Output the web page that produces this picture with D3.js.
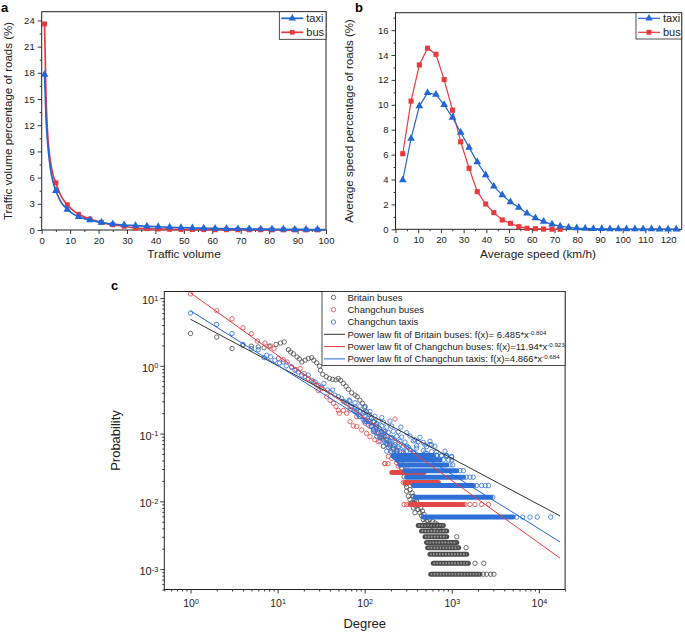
<!DOCTYPE html>
<html><head><meta charset="utf-8">
<script src="https://cdn.jsdelivr.net/npm/d3@7"></script>
<style>
body{margin:0;background:#fff;}
svg text{font-family:"Liberation Sans", Arial, sans-serif;}
</style>
</head><body>
<svg id="chart" width="685" height="633"></svg>
<script>
// ---------------- Panel a: traffic volume ----------------
const volumeX   = [1,1.5,2,3,4,5,6,7,8,9,11,13,15,17,19,21,25,29,33,37,41,45,49,53,57,61,65,69,73,77,81,85,89,93,97,100];
const taxiVolume = [17.8,13.0,10.3,7.2,5.5,4.5,3.7,3.1,2.7,2.36,1.85,1.52,1.3,1.14,0.98,0.86,0.69,0.57,0.5,0.42,0.37,0.31,0.27,0.23,0.2,0.17,0.15,0.13,0.11,0.1,0.09,0.08,0.07,0.06,0.05,0.05];
const busVolume  = [23.6,15.5,11.5,8.0,6.3,5.4,4.5,3.8,3.3,2.9,2.25,1.8,1.5,1.26,1.05,0.88,0.6,0.42,0.22,0.15,0.11,0.08,0.06,0.05,0.04,0.03,0.03,0.02,0.02,0.02,0.01,0.01,0.01,0.01,0.01,0.01];
const volumeXTicks = [0,10,20,30,40,50,60,70,80,90,100];
const volumeYTicks = [0,3,6,9,12,15,18,21,24];

// ---------------- Panel b: average speed ----------------
const speedX = [3.2,6.85,10.5,14.1,17.8,21.4,25.1,28.7,32.4,36.0,39.7,43.3,47.0,50.6,54.3,57.9,61.6,65.2,68.9,72.5,76.2,79.8,83.5,87.1,90.8,94.4,98.1,101.7,105.4,109.0,112.7,116.3,120.0,123.6];
const taxiSpeed = [3.96,7.3,9.9,10.96,10.83,10.0,8.98,7.78,6.58,5.4,4.36,3.45,2.75,2.19,1.76,1.28,0.9,0.62,0.4,0.25,0.15,0.1,0.07,0.05,0.04,0.03,0.03,0.02,0.02,0.02,0.02,0.01,0.01,0.01];
const busSpeed  = [6.07,10.3,13.2,14.55,14.06,12.03,9.57,7.03,4.9,3.02,2.03,1.34,0.75,0.48,0.21,0.08,0.05,0.02,0.01,0.0];
const speedXTicks = [0,10,20,30,40,50,60,70,80,90,100,110,120];
const speedYTicks = [0,2,4,6,8,10,12,14,16];

// ---------------- Panel c: degree distribution ----------------
const seriesNames = ["Britain buses","Changchun buses","Changchun taxis"];
const fitNames = ["Power law fit of Britain buses: f(x)= 6.485*x","Power law fit of Changchun buses: f(x)=11.94*x","Power law fit of Changchun taxis: f(x)=4.866*x"];
const fitExponentLabels = ["-0.804","-0.923","-0.684"];
// fitted lines as drawn in the picture (black, red, blue): [coefficient, exponent, xStart, xEnd]
const fitBlack = [4.866,-0.684,1,17500];
const fitRed   = [11.94,-0.923,1,17500];
const fitBlue  = [6.485,-0.804,1,17500];
const degreeTicks = [1,10,100,1000,10000];
const probTicks = [0.001,0.01,0.1,1,10];

// [degree, probability]
const britainPoints = [[1,3.0],[2,2.65],[3,1.8],[4,2.0],[5,1.95],[6,1.9],[7,1.85],[8,1.95],[9.6,2.07],[10.8,2.17],[11.9,2.25],
[13.3,1.73],[14.1,1.6],[15.2,1.5],[16.7,1.35],[17.8,1.26],[19,1.14],[20.7,1.21],[22.5,1.28],[24.6,1.32],[26,1.21],[28.1,1.11],[30.2,0.99],[31,0.86],[33,0.75],[36.2,0.69],[39.5,0.65],[42.8,0.63],[46.8,0.62],[49.8,0.65],[53,0.61],[56.9,0.55],[61,0.5],[65,0.45],[71,0.4],[77.4,0.37],[82,0.35],[88,0.31],[94,0.28],[101,0.25],[105,0.21],[113,0.19],[120,0.17],[128,0.15],[137,0.14],[147,0.12],[157,0.107],[171,0.09],[179,0.081],[195,0.068],[213,0.061],[233,0.054],[250,0.046],[254,0.037],[266,0.031],[283,0.023],[297,0.018],[303,0.0141],[317,0.0119],[331,0.0106],[347,0.0095],[362,0.008],[378,0.0068],
[150,0.09],[180,0.07],[200,0.055],[220,0.045],[240,0.04],
[303,0.0163],[331,0.0149],[350,0.0133],[362,0.0119],[380,0.0106],[395,0.0100],[370,0.0095],[420,0.0090],[385,0.0085],[440,0.0080],[410,0.0076],[460,0.0072],[430,0.0068],[480,0.0064],[450,0.0061],[500,0.0057],[470,0.0054],[520,0.0051],[490,0.0048],[540,0.0046],[560,0.0054],[600,0.0051],[640,0.0048],[590,0.0043],[680,0.0046],[720,0.0040],
[1140,0.0030],[1460,0.00207],[1846,0.00122],[2330,0.00122],[2296,0.00084],[2510,0.00084],[2790,0.00084],[3050,0.00084]];
// dense rows: [probability, degreeFrom, degreeTo]
const britainRows = [[0.0044,412,800],[0.00364,450,875],[0.0030,492,875],[0.00246,513,1140],[0.00207,528,1200],[0.00166,562,1484],[0.00122,613,1547],[0.00084,573,2107]];

const changchunBusPoints = [[1,11.5],[2,6.5],[3,4.95],[4,3.65],[5,2.98],[5.85,2.32],[7.16,2.17],[8.3,1.96],[9.1,1.79],[10.2,1.28],[11.6,1.24],[12.9,1.14],[14.5,0.96],[16.3,0.88],[18.1,0.91],[20.1,0.77],[22.5,0.65],[25.7,0.58],[28.1,0.52],[29.4,0.43],[32.1,0.46],[36.6,0.35],[40,0.31],[43.6,0.28],[46.8,0.25],[49.8,0.22],[51.1,0.2],[56.9,0.22],[62.1,0.2],[67.8,0.15],[74,0.13],[80.9,0.127],[92.3,0.113],[101,0.142],[105,0.101],[115,0.09],[126,0.113],[131,0.081],[143,0.076],[157,0.086],[164,0.065],[171,0.036],[187,0.046],[204,0.043],[223,0.164],[233,0.037],[243,0.033],[266,0.031],[278,0.041],[303,0.033],
[67.8,0.223],[80.9,0.178],[96.4,0.159],[115,0.127],[137,0.101],[164,0.09],[195,0.072],[233,0.058],[278,0.051],
[170,0.036],[185,0.036],[283,0.009],[304,0.009],[1418,0.009],[1617,0.009],[1846,0.009],[2200,0.009],[2640,0.009],[278,0.019]];
const changchunBusRows = [[0.009,331,1345],[0.019,290,700],[0.0267,205,480]];

const changchunTaxiPoints = [[1,6.0],[2,4.08],[3,3.0],[4,2.07],[5,1.8],[6,1.73],[7,1.32],[7.5,1.43],[8.3,1.36],[9.3,1.21],[10.5,1.1],[11.6,1.14],[12.6,1.0],[14.5,0.96],[15.8,0.86],[17.3,0.81],[19,0.73],[20.7,0.69],[22.5,0.73],[24.6,0.61],[26.9,0.58],[29.4,0.52],[32.1,0.48],[34,0.55],[37.3,0.44],[40,0.41],[42.8,0.44],[45.5,0.37],[49.8,0.35],[54.3,0.33],[56.9,0.3],[62.1,0.28],[66.5,0.31],[71,0.25],[75.6,0.22],[80.9,0.21],[84.5,0.19],[88,0.18],[96.4,0.2],[101,0.16],[105,0.15],[110,0.134],[115,0.15],[120,0.127],[126,0.116],[131,0.107],[137,0.127],[143,0.101],[150,0.09],[157,0.095],[164,0.081],[171,0.107],[179,0.072],[187,0.076],[195,0.065],[204,0.086],[213,0.058],[223,0.069],[233,0.051],[243,0.061],[260,0.125],[266,0.046],[278,0.054],[303,0.065],[331,0.058],[362,0.051],[395,0.061],[431,0.046],[471,0.048],[514,0.051],[587,0.054],[670,0.048],[764,0.047],[873,0.046],[996,0.046],[562,0.069],[492,0.052],
[378,0.081],[412,0.076],[492,0.068],[585,0.068],
[59.4,0.29],[67.8,0.30],[77.4,0.285],
[67.8,0.25],[77.4,0.245],[88,0.255],[100,0.24],
[77.4,0.21],[88,0.215],[100,0.205],[115,0.212],
[88,0.178],[100,0.182],[115,0.174],[131,0.18],[157,0.172],
[100,0.15],[110,0.154],[126,0.146],[143,0.152],[164,0.147],[195,0.153],
[120,0.128],[137,0.124],[157,0.13],[179,0.125],[204,0.129],
[126,0.107],[143,0.105],[164,0.109],[187,0.104],[213,0.108],[243,0.106],[303,0.103],
[137,0.091],[157,0.089],[179,0.092],[204,0.088],[233,0.091],[266,0.089],[331,0.092],[431,0.088],
[150,0.077],[171,0.075],[195,0.078],[223,0.074],[254,0.077],[290,0.075],[362,0.078],[471,0.074],[562,0.077],
[164,0.065],[187,0.063],[213,0.066],[243,0.064],[278,0.065],[317,0.063],[395,0.066],[514,0.064],[641,0.065],
[179,0.055],[204,0.053],[233,0.056],[266,0.054],[303,0.055],[362,0.053],[471,0.056],[670,0.054],[836,0.055],
[213,0.046],[243,0.045],[278,0.047],[331,0.045],[431,0.046],[614,0.045],[873,0.047],[996,0.045],
[5563,0.00585],[6517,0.00585],[7903,0.00585],[9590,0.00585],[13650,0.00585],[2950,0.0115],[1930,0.0171],[2200,0.0171],[2420,0.0171],[2640,0.0171],[1460,0.0227],[1617,0.0227],[1766,0.0227],[1242,0.0284],[1360,0.0284],[954,0.0345],[1024,0.0345],[800,0.041],[915,0.041],[1000,0.041],[671,0.0475],[760,0.0475],[870,0.0475]];
const changchunTaxiRows = [[0.00585,470,5044],[0.0115,378,2800],[0.0171,361,1766],[0.0227,304,1360],[0.0284,290,1140],[0.0345,254,875],[0.041,233,732],[0.0475,212,613]];

// ---------------- drawing ----------------
const svg = d3.select('#chart');
const INK = '#222';
const BLUE = '#2167d6', RED = '#e8393c';
const C_GREY = '#4a4a4a', C_RED = '#e24848', C_BLUE = '#2f70d6';

function styleAxis(sel, fs){
  sel.attr('font-size', fs).attr('font-family','"Liberation Sans", Arial, sans-serif').attr('color', INK);
  sel.select('.domain').remove();
  sel.selectAll('.tick line').attr('stroke-width',0.9);
}
function frame(x0,y0,x1,y1){
  svg.append('rect').attr('x',x0).attr('y',y0).attr('width',x1-x0).attr('height',y1-y0)
    .attr('fill','none').attr('stroke',INK).attr('stroke-width',1);
}
function linearAxes(xs, ys, xMajor, yMajor){
  const b = ys.range()[0];
  const l = xs.range()[0];
  const xStep = xMajor[1]-xMajor[0], yStep = yMajor[1]-yMajor[0];
  const xMinor = xMajor.map(v=>v+xStep/2).filter(v=>v<=xs.domain()[1]);
  const yMinor = yMajor.map(v=>v+yStep/2).filter(v=>v<=ys.domain()[1]);
  svg.append('g').attr('transform',`translate(0,${b})`).call(d3.axisBottom(xs).tickValues(xMinor).tickSize(2).tickFormat('')).call(s=>styleAxis(s,9.5));
  svg.append('g').attr('transform',`translate(0,${b})`).call(d3.axisBottom(xs).tickValues(xMajor).tickSize(4).tickPadding(3)).call(s=>styleAxis(s,9.5));
  svg.append('g').attr('transform',`translate(${l},0)`).call(d3.axisLeft(ys).tickValues(yMinor).tickSize(2).tickFormat('')).call(s=>styleAxis(s,9.5));
  svg.append('g').attr('transform',`translate(${l},0)`).call(d3.axisLeft(ys).tickValues(yMajor).tickSize(4).tickPadding(3)).call(s=>styleAxis(s,9.5));
}
function panelLabel(t,x,y){ svg.append('text').attr('x',x).attr('y',y).attr('font-size',13).attr('font-weight','bold').attr('fill','#000').text(t); }
function axisTitle(t,x,y,rot,fs){
  const el = svg.append('text').attr('font-size',fs).attr('fill',INK).attr('text-anchor','middle').text(t);
  if(rot) el.attr('transform',`translate(${x},${y}) rotate(-90)`); else el.attr('x',x).attr('y',y);
}
const triangle = d3.symbol().type(d3.symbolTriangle);
const square = d3.symbol().type(d3.symbolSquare);

function legendBox(x0,y0,x1,y1, rows){
  svg.append('rect').attr('x',x0).attr('y',y0).attr('width',x1-x0).attr('height',y1-y0).attr('fill','#fff').attr('stroke',INK).attr('stroke-width',0.8);
  rows.forEach(r=>{
    svg.append('line').attr('x1',x0+2).attr('x2',x0+24).attr('y1',r.y).attr('y2',r.y).attr('stroke',r.color).attr('stroke-width',r.lw);
    svg.append('path').attr('d',r.sym.size(r.size)()).attr('transform',`translate(${x0+13},${r.y})`).attr('fill',r.color);
    svg.append('text').attr('x',x0+27).attr('y',r.y).attr('dy','0.35em').attr('font-size',11).attr('fill',INK).text(r.label);
  });
}

// ----- Panel a -----
{
  const xs = d3.scaleLinear().domain([0,100]).range([41.7,326]);
  const ys = d3.scaleLinear().domain([0,25]).range([230,11.7]);
  linearAxes(xs, ys, volumeXTicks, volumeYTicks);
  frame(41.7,11.7,326,230);
  const line = d3.line().x(d=>xs(d[0])).y(d=>ys(d[1])).curve(d3.curveMonotoneX);
  const series = [[busVolume, RED, square, 24],[taxiVolume, BLUE, triangle, 26]];
  series.forEach(([vals,col,sym,sz])=>{
    const pts = volumeX.map((x,i)=>[x,vals[i]]);
    svg.append('path').attr('d',line(pts)).attr('fill','none').attr('stroke',col).attr('stroke-width',1.7);
    svg.selectAll(null).data(pts.filter(p=>Number.isInteger(p[0]) && (p[0]-1)%4===0)).enter().append('path')
      .attr('d',sym.size(sz)()).attr('transform',d=>`translate(${xs(d[0])},${ys(d[1])})`).attr('fill',col);
  });
  legendBox(279.3,11.7,326,39.3,[{y:18.3,color:BLUE,sym:triangle,size:24,lw:1.7,label:'taxi'},{y:32.3,color:RED,sym:square,size:22,lw:1.7,label:'bus'}]);
  panelLabel('a',1,12);
  axisTitle('Traffic volume percentage of roads (%)',12,121,true,11.5);
  axisTitle('Traffic volume',184,258,false,11.8);
}

// ----- Panel b -----
{
  const xs = d3.scaleLinear().domain([0,126]).range([395.5,681.7]);
  const ys = d3.scaleLinear().domain([0,17.4]).range([229.3,12.7]);
  linearAxes(xs, ys, speedXTicks, speedYTicks);
  frame(395.5,12.7,681.7,229.3);
  const line = d3.line().x(d=>xs(d[0])).y(d=>ys(d[1]));
  const series = [[busSpeed, RED, square, 26],[taxiSpeed, BLUE, triangle, 26]];
  series.forEach(([vals,col,sym,sz])=>{
    const pts = vals.map((v,i)=>[speedX[i],v]);
    svg.append('path').attr('d',line(pts)).attr('fill','none').attr('stroke',col).attr('stroke-width',1.2);
    svg.selectAll(null).data(pts).enter().append('path')
      .attr('d',sym.size(sz)()).attr('transform',d=>`translate(${xs(d[0])},${ys(d[1])})`).attr('fill',col);
  });
  legendBox(636,12.7,681.7,39,[{y:18.3,color:BLUE,sym:triangle,size:24,lw:1.2,label:'taxi'},{y:32.3,color:RED,sym:square,size:24,lw:1.2,label:'bus'}]);
  panelLabel('b',355,12);
  axisTitle('Average speed percentage of roads (%)',353,121,true,11.5);
  axisTitle('Average speed (km/h)',538,258,false,11.8);
}

// ----- Panel c -----
{
  const xs = d3.scaleLog().domain([0.5,20000]).range([164.3,565.1]);
  const ys = d3.scaleLog().domain([5e-4,12.5]).range([589.5,291.5]);
  const xMinor = [], yMinor = [];
  [0.1,1,10,100,1000,10000].forEach(d=>{ for(let k=2;k<=9;k++){ const v=d*k; if(v>=0.5&&v<=20000) xMinor.push(v);} });
  [1e-4,1e-3,1e-2,1e-1,1,10].forEach(d=>{ for(let k=2;k<=9;k++){ const v=d*k; if(v>=5e-4&&v<=12.5) yMinor.push(v);} });
  const sup = sel => sel.each(function(d){
    const t = d3.select(this); t.text(null);
    t.append('tspan').text('10');
    t.append('tspan').attr('dy','-0.45em').attr('font-size','0.68em').text(Math.round(Math.log10(d)));
  });
  svg.append('g').attr('transform','translate(0,589.5)').call(d3.axisBottom(xs).tickValues(xMinor).tickSize(2).tickFormat('')).call(s=>styleAxis(s,10.5));
  svg.append('g').attr('transform','translate(0,589.5)').call(d3.axisBottom(xs).tickValues(degreeTicks).tickSize(4).tickFormat(d=>d))
    .call(s=>{styleAxis(s,10.5); s.selectAll('text').attr('y',17.5).attr('dy',0).call(sup);});
  svg.append('g').attr('transform','translate(164.3,0)').call(d3.axisLeft(ys).tickValues(yMinor).tickSize(2).tickFormat('')).call(s=>styleAxis(s,10.5));
  svg.append('g').attr('transform','translate(164.3,0)').call(d3.axisLeft(ys).tickValues(probTicks).tickSize(4).tickFormat(d=>d))
    .call(s=>{styleAxis(s,11); s.selectAll('text').attr('x',-6).attr('dy','0.5em').call(sup);});

  const plot = svg.append('g');
  function drawSeries(points, rows, col, hollow){
    plot.selectAll(null).data(rows).enter().append('line')
      .attr('x1',d=>xs(d[1])).attr('x2',d=>xs(d[2])).attr('y1',d=>ys(d[0])).attr('y2',d=>ys(d[0]))
      .attr('stroke',col).attr('stroke-width',5).attr('stroke-linecap','round');
    if(hollow){
      plot.selectAll(null).data(rows).enter().append('line')
        .attr('x1',d=>xs(d[1])).attr('x2',d=>xs(d[2])).attr('y1',d=>ys(d[0])).attr('y2',d=>ys(d[0]))
        .attr('stroke','#fff').attr('stroke-opacity',0.45).attr('stroke-width',2).attr('stroke-dasharray','1.6 1.4');
    }
    plot.selectAll(null).data(points).enter().append('circle')
      .attr('cx',d=>xs(d[0])).attr('cy',d=>ys(d[1])).attr('r',2.2)
      .attr('fill','none').attr('stroke',col).attr('stroke-width',0.8);
  }
  drawSeries(britainPoints, britainRows, C_GREY, true);
  drawSeries(changchunBusPoints, changchunBusRows, C_RED, false);
  drawSeries(changchunTaxiPoints, changchunTaxiRows, C_BLUE, false);
  [[fitBlack,'#333'],[fitRed,RED],[fitBlue,BLUE]].forEach(([f,col])=>{
    const pts = [f[2],f[3]].map(x=>[x, f[0]*Math.pow(x,f[1])]);
    plot.append('line').attr('x1',xs(pts[0][0])).attr('y1',ys(pts[0][1])).attr('x2',xs(pts[1][0])).attr('y2',ys(pts[1][1]))
      .attr('stroke',col).attr('stroke-width',1);
  });
  frame(164.3,291.5,565.1,589.5);

  // legend
  const lx0 = 322, ly0 = 291.5, lx1 = 565.1, ly1 = 365.5;
  svg.append('rect').attr('x',lx0).attr('y',ly0).attr('width',lx1-lx0).attr('height',ly1-ly0).attr('fill','#fff').attr('stroke',INK).attr('stroke-width',0.8);
  const cols = [C_GREY, C_RED, C_BLUE];
  const lineCols = ['#333', RED, BLUE];
  seriesNames.forEach((n,i)=>{
    const y = 297.4 + i*12.3;
    svg.append('circle').attr('cx',333.5).attr('cy',y).attr('r',2.2).attr('fill','none').attr('stroke',cols[i]).attr('stroke-width',0.8);
    svg.append('text').attr('x',347.5).attr('y',y).attr('dy','0.35em').attr('font-size',9.5).attr('fill',INK).text(n);
  });
  fitNames.forEach((n,i)=>{
    const y = 297.4 + (i+3)*12.3;
    svg.append('line').attr('x1',324).attr('x2',345).attr('y1',y).attr('y2',y).attr('stroke',lineCols[i]).attr('stroke-width',1);
    const t = svg.append('text').attr('x',347.5).attr('y',y).attr('dy','0.35em').attr('font-size',9.5).attr('fill',INK);
    t.append('tspan').text(n);
    t.append('tspan').attr('dy','-0.45em').attr('font-size','0.65em').text(fitExponentLabels[i]);
  });
  panelLabel('c',111,290);
  axisTitle('Probability',120,440.5,true,13);
  axisTitle('Degree',364.7,628,false,13);
}
</script>
</body></html>
